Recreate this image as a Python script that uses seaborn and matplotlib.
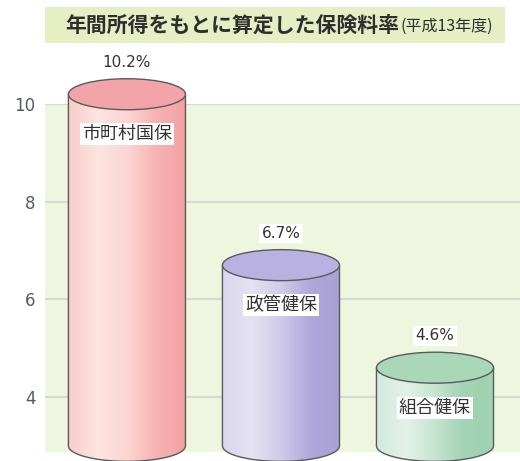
import numpy as np
import seaborn as sns
import matplotlib.pyplot as plt
from matplotlib.patches import Ellipse, Rectangle, PathPatch
from matplotlib.path import Path
from matplotlib.colors import LinearSegmentedColormap

sns.set_style("white")
plt.rcParams['font.family'] = ['Noto Sans CJK JP', 'DejaVu Sans']

# データ
categories = ['市町村国保', '政管健保', '組合健保']
rates = [10.2, 6.7, 4.6]
rate_labels = ['10.2%', '6.7%', '4.6%']
yticks = [4, 6, 8, 10]

# 色 (左 -> 右のグラデーション, 上面)
body_colors = [
    ['#f7cdca', '#fde4e0', '#fbd6d3', '#f6b2b2', '#f4a2a4'],
    ['#d9d6ee', '#e5e3f3', '#cfcbea', '#b0a8db', '#a9a0d6'],
    ['#d2e9dc', '#e3f2e9', '#c6e4d1', '#a2d3b4', '#9fd2b1'],
]
top_colors = ['#f3a4a9', '#b8b1e1', '#a9d7b8']

base = 3.0        # 円柱の底
ell_h = 0.635     # 楕円の高さ (データ単位)

fig = plt.figure(figsize=(5.2, 4.61), dpi=100)
ax = fig.add_axes([45 / 520, 9 / 461, 475 / 520, 348 / 461])
ax.set_facecolor('#eef6df')

sns.barplot(x=categories, y=rates, ax=ax, width=0.76, color='w')

for i, p in enumerate(ax.patches):
    p.set_visible(False)
    x0, w, top = p.get_x(), p.get_width(), p.get_height()
    xc = x0 + w / 2
    # 胴体 (下側は半楕円)
    t = np.linspace(np.pi, 2 * np.pi, 60)
    arc = np.column_stack([xc + w / 2 * np.cos(t), base + ell_h / 2 * np.sin(t)])
    verts = np.vstack([[x0, top], arc, [x0 + w, top], [x0, top]])
    body = PathPatch(Path(verts), facecolor='none', edgecolor='#5a5a5a',
                     lw=1.0, zorder=3, clip_on=False)
    ax.add_patch(body)
    cmap = LinearSegmentedColormap.from_list('c%d' % i, body_colors[i])
    grad = np.linspace(0, 1, 256).reshape(1, -1)
    im = ax.imshow(grad, cmap=cmap, aspect='auto', zorder=2,
                   extent=(x0, x0 + w, base - ell_h, top))
    im.set_clip_path(body)
    im.set_clip_box(fig.bbox)
    ax.add_patch(Ellipse((xc, top), w, ell_h, facecolor=top_colors[i],
                         edgecolor='#5a5a5a', lw=1.0, zorder=4, clip_on=False))
    ax.text(xc, top + 0.65, rate_labels[i], ha='center', va='center',
            fontsize=11, color='#333333', zorder=5, family='DejaVu Sans',
            bbox=dict(facecolor='white', edgecolor='none', pad=1.5))
    ax.text(xc, top - 0.82, categories[i], ha='center', va='center',
            fontsize=13, color='#333333', zorder=5,
            bbox=dict(facecolor='white', edgecolor='none', pad=1.5))

ax.set_aspect('auto')
ax.set_xlim(-0.532, 2.552)
ax.set_ylim(2.874, 10)
ax.set_yticks(yticks)
ax.set_yticklabels([str(v) for v in yticks], fontsize=12, color='#555a66',
                   family='DejaVu Sans')
ax.tick_params(axis='y', length=0, pad=7)
ax.set_xticks([])
ax.set_xlabel('')
ax.set_ylabel('')
ax.set_axisbelow(True)
ax.yaxis.grid(True, color='#d9d9d4', lw=1.6)
for s in ax.spines.values():
    s.set_visible(False)

# タイトル
fig.add_artist(Rectangle((45 / 520, 1 - 43 / 461), 460 / 520, 36 / 461,
                         transform=fig.transFigure, facecolor='#e6eec4',
                         edgecolor='none'))
fig.text(65 / 520, 1 - 25 / 461, '年間所得をもとに算定した保険料率',
         fontsize=15, fontweight='bold', color='#2e2e2e', va='center')
fig.text(401 / 520, 1 - 26 / 461, '(平成13年度)', fontsize=11.5,
         color='#2e2e2e', va='center')

fig.savefig('out.png', dpi=100)
